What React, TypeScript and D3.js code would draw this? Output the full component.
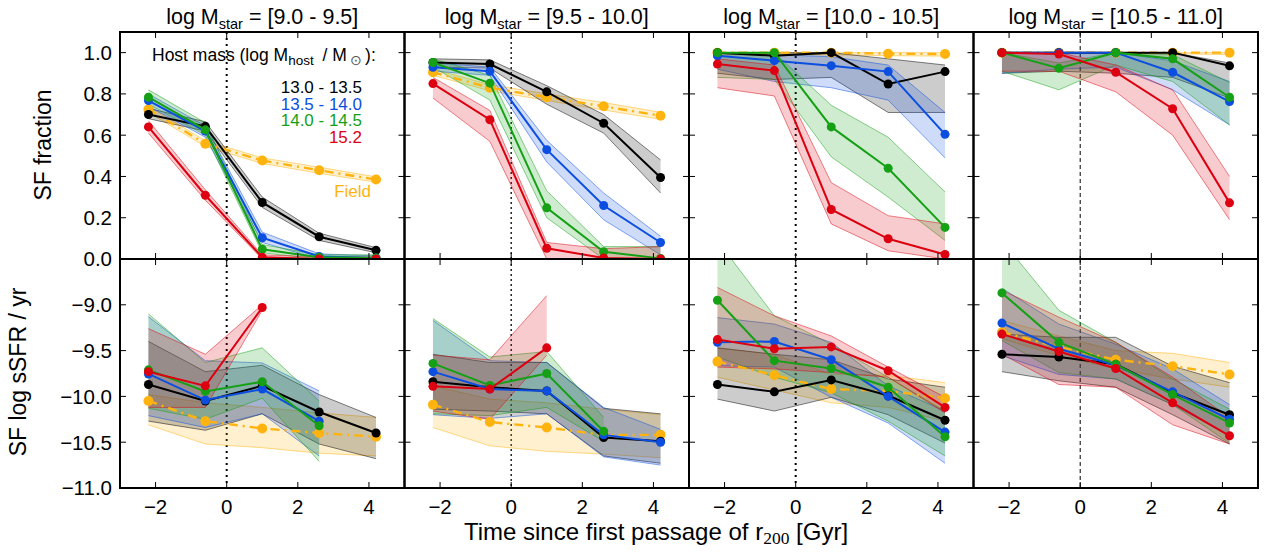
import React from 'react'
import * as d3 from 'd3'

// time since first passage of r200 [Gyr]
const times = [-2.2, -0.6, 1.0, 2.6, 4.2]
const mstarBins = ['[9.0 - 9.5]', '[9.5 - 10.0]', '[10.0 - 10.5]', '[10.5 - 11.0]']
const hostLabels = ['13.0 - 13.5', '13.5 - 14.0', '14.0 - 14.5', '15.2']
const fracTicks = [0, 0.2, 0.4, 0.6, 0.8, 1.0]
const ssfrTicks = [-11, -10.5, -10, -9.5, -9]
const timeTicks = [-2, 0, 2, 4]

// SF fraction, one row per stellar mass bin
const fracBlack = [
  [0.7, 0.643, 0.274, 0.108, 0.042],
  [0.952, 0.945, 0.81, 0.658, 0.395],
  [1.0, 0.985, 1.0, 0.848, 0.908],
  [1.0, 1.0, 1.0, 1.0, 0.936],
]
const fracBlackLo = [
  [0.68, 0.62, 0.25, 0.09, 0.03],
  [0.93, 0.925, 0.75, 0.61, 0.32],
  [0.9, 0.87, 0.88, 0.71, 0.71],
  [0.9, 0.91, 0.9, 0.88, 0.78],
]
const fracBlackHi = [
  [0.73, 0.665, 0.3, 0.125, 0.055],
  [0.97, 0.965, 0.84, 0.7, 0.48],
  [1.0, 1.0, 1.0, 0.97, 0.94],
  [1.0, 1.0, 1.0, 1.0, 0.95],
]
const fracBlue = [
  [0.768, 0.62, 0.103, 0.012, 0.005],
  [0.929, 0.91, 0.53, 0.259, 0.08],
  [0.985, 0.961, 0.937, 0.908, 0.604],
  [1.0, 1.0, 1.0, 0.905, 0.763],
]
const fracBlueLo = [
  [0.74, 0.59, 0.08, 0.0, 0.0],
  [0.91, 0.89, 0.47, 0.19, 0.02],
  [0.92, 0.86, 0.83, 0.77, 0.49],
  [0.9, 0.92, 0.93, 0.82, 0.65],
]
const fracBlueHi = [
  [0.8, 0.645, 0.13, 0.025, 0.015],
  [0.95, 0.93, 0.575, 0.32, 0.11],
  [1.0, 0.99, 0.98, 0.94, 0.71],
  [1.0, 1.0, 1.0, 0.96, 0.86],
]
const fracGreen = [
  [0.784, 0.626, 0.047, 0.008, 0.005],
  [0.952, 0.852, 0.248, 0.035, 0.003],
  [1.0, 1.0, 0.64, 0.44, 0.153],
  [1.0, 0.924, 1.0, 0.97, 0.784],
]
const fracGreenLo = [
  [0.75, 0.6, 0.03, 0.0, 0.0],
  [0.93, 0.77, 0.2, 0.0, 0.0],
  [0.88, 0.87, 0.495, 0.3, 0.09],
  [0.91, 0.82, 0.94, 0.86, 0.65],
]
const fracGreenHi = [
  [0.82, 0.66, 0.07, 0.02, 0.02],
  [0.97, 0.89, 0.33, 0.06, 0.06],
  [1.0, 1.0, 0.745, 0.59, 0.325],
  [1.0, 0.95, 1.0, 0.99, 0.855],
]
const fracRed = [
  [0.64, 0.309, 0.008, 0.0, 0.0],
  [0.85, 0.675, 0.052, 0.005, 0.0],
  [0.945, 0.913, 0.24, 0.098, 0.022],
  [1.0, 0.993, 0.905, 0.728, 0.272],
]
const fracRedLo = [
  [0.61, 0.285, 0.0, 0.0, 0.0],
  [0.78, 0.57, 0.0, 0.0, 0.0],
  [0.83, 0.79, 0.17, 0.04, 0.0],
  [0.91, 0.91, 0.81, 0.6, 0.19],
]
const fracRedHi = [
  [0.67, 0.335, 0.02, 0.01, 0.01],
  [0.88, 0.72, 0.08, 0.05, 0.06],
  [0.97, 0.94, 0.37, 0.21, 0.17],
  [1.0, 1.0, 0.94, 0.82, 0.4],
]
const fracField = [
  [0.725, 0.559, 0.477, 0.43, 0.385],
  [0.905, 0.83, 0.784, 0.74, 0.694],
  [1.0, 1.0, 1.0, 0.995, 0.993],
  [1.0, 1.0, 1.0, 1.0, 1.0],
]
const fracFieldLo = [
  [0.71, 0.545, 0.463, 0.415, 0.372],
  [0.89, 0.815, 0.768, 0.722, 0.677],
  [0.99, 0.99, 0.99, 0.985, 0.983],
  [0.995, 0.995, 0.995, 0.995, 0.99],
]
const fracFieldHi = [
  [0.74, 0.573, 0.49, 0.445, 0.398],
  [0.92, 0.845, 0.8, 0.758, 0.711],
  [1.0, 1.0, 1.0, 1.0, 1.0],
  [1.0, 1.0, 1.0, 1.0, 1.0],
]

// SF log sSFR / yr
const ssfrBlack = [
  [-9.87, -10.05, -9.885, -10.17, -10.4],
  [-9.84, -9.9, -9.94, -10.45, -10.49],
  [-9.87, -9.95, -9.82, -9.99, -10.26],
  [-9.54, -9.57, -9.65, -9.96, -10.2],
]
const ssfrBlackLo = [
  [-10.27, -10.37, -10.19, -10.52, -10.68],
  [-10.14, -10.16, -10.19, -10.65, -10.73],
  [-10.03, -10.16, -10.01, -10.2, -10.51],
  [-9.73, -9.83, -9.9, -10.2, -10.52],
]
const ssfrBlackHi = [
  [-9.4, -9.73, -9.66, -9.98, -10.23],
  [-9.54, -9.63, -9.63, -10.13, -10.19],
  [-9.47, -9.54, -9.6, -9.81, -9.9],
  [-9.32, -9.355, -9.355, -9.67, -9.85],
]
const ssfrBlue = [
  [-9.755, -10.04, -9.92, -10.27, null],
  [-9.73, -9.92, -9.94, -10.42, -10.5],
  [-9.41, -9.4, -9.6, -10.0, -10.39],
  [-9.2, -9.48, -9.66, -9.95, -10.25],
]
const ssfrBlueLo = [
  [-10.21, -10.34, -10.19, -10.65, null],
  [-10.2, -10.24, -10.19, -10.66, -10.75],
  [-9.665, -9.68, -10.01, -10.29, -10.73],
  [-9.555, -9.76, -9.81, -10.09, -10.43],
]
const ssfrBlueHi = [
  [-9.13, -9.61, -9.635, -9.94, null],
  [-9.17, -9.61, -9.63, -10.12, -10.36],
  [-9.14, -9.21, -9.41, -9.885, -10.16],
  [-8.82, -9.21, -9.43, -9.7, -10.09],
]
const ssfrGreen = [
  [-9.71, -9.945, -9.84, -10.32, null],
  [-9.64, -9.88, -9.75, -10.38, null],
  [-8.95, -9.61, -9.695, -9.9, -10.44],
  [-8.87, -9.41, -9.65, -9.98, -10.29],
]
const ssfrGreenLo = [
  [-10.13, -10.25, -10.02, -10.71, null],
  [-10.19, -10.21, -10.12, -10.49, null],
  [-9.57, -9.79, -9.96, -10.27, -10.65],
  [-9.39, -9.74, -9.81, -10.09, -10.51],
]
const ssfrGreenHi = [
  [-9.1, -9.63, -9.47, -10.05, null],
  [-9.15, -9.57, -9.51, -10.23, null],
  [-8.3, -9.12, -9.43, -9.79, -10.16],
  [-8.3, -9.06, -9.41, -9.81, -10.14],
]
const ssfrRed = [
  [-9.73, -9.885, -9.03, null, null],
  [-9.89, -9.92, -9.47, null, null],
  [-9.38, -9.48, -9.46, -9.72, -10.12],
  [-9.32, -9.51, -9.695, -10.07, -10.43],
]
const ssfrRedLo = [
  [-10.12, -10.12, -9.06, null, null],
  [-10.16, -10.25, -9.55, null, null],
  [-9.68, -9.7, -9.74, -9.79, -10.18],
  [-9.54, -9.87, -9.9, -10.31, -10.52],
]
const ssfrRedHi = [
  [-9.26, -9.54, -9.0, null, null],
  [-9.55, -9.6, -8.9, null, null],
  [-8.81, -9.12, -9.34, -9.68, -10.01],
  [-8.84, -9.135, -9.41, -9.79, -10.23],
]
const ssfrField = [
  [-10.05, -10.27, -10.35, -10.4, -10.44],
  [-10.09, -10.28, -10.34, -10.42, -10.42],
  [-9.62, -9.77, -9.92, -9.94, -10.02],
  [-9.3, -9.46, -9.6, -9.67, -9.76],
]
const ssfrFieldLo = [
  [-10.31, -10.52, -10.56, -10.62, -10.65],
  [-10.34, -10.54, -10.6, -10.63, -10.67],
  [-9.79, -9.93, -10.07, -10.12, -10.27],
  [-9.37, -9.555, -9.7, -9.81, -9.9],
]
const ssfrFieldHi = [
  [-9.98, -10.07, -10.12, -10.18, -10.23],
  [-9.885, -10.03, -10.07, -10.14, -10.2],
  [-9.475, -9.54, -9.76, -9.77, -9.85],
  [-9.17, -9.34, -9.5, -9.53, -9.63],
]

const colors = ['#000000', '#0b4ee0', '#15a015', '#dd0010', '#ffb30f']
const fieldColor = colors[4]

type Val = number | null
type Series = {color: string; mid: Val[][]; lo: Val[][]; hi: Val[][]; field?: boolean}

const fracSeries: Series[] = [
  {color: colors[4], mid: fracField, lo: fracFieldLo, hi: fracFieldHi, field: true},
  {color: colors[0], mid: fracBlack, lo: fracBlackLo, hi: fracBlackHi},
  {color: colors[1], mid: fracBlue, lo: fracBlueLo, hi: fracBlueHi},
  {color: colors[2], mid: fracGreen, lo: fracGreenLo, hi: fracGreenHi},
  {color: colors[3], mid: fracRed, lo: fracRedLo, hi: fracRedHi},
]
const ssfrSeries: Series[] = [
  {color: colors[4], mid: ssfrField, lo: ssfrFieldLo, hi: ssfrFieldHi, field: true},
  {color: colors[0], mid: ssfrBlack, lo: ssfrBlackLo, hi: ssfrBlackHi},
  {color: colors[1], mid: ssfrBlue, lo: ssfrBlueLo, hi: ssfrBlueHi},
  {color: colors[2], mid: ssfrGreen, lo: ssfrGreenLo, hi: ssfrGreenHi},
  {color: colors[3], mid: ssfrRed, lo: ssfrRedLo, hi: ssfrRedHi},
]

const W = 1264
const H = 559
const left = 120
const right = 1258
const top = 32
const mid = 259
const bottom = 488
const pw = (right - left) / 4
const font = "'Liberation Sans', Arial, Helvetica, sans-serif"
const minus = (s: string) => s.replace('-', '\u2212')

const yFrac = d3.scaleLinear().domain([0, 1.1]).range([mid, top])
const ySsfr = d3.scaleLinear().domain([-11, -8.5]).range([bottom, mid])

function Panel({col, row}: {col: number; row: number}) {
  const x0 = left + col * pw
  const x = d3.scaleLinear().domain([-3, 5]).range([x0, x0 + pw])
  const y = row === 0 ? yFrac : ySsfr
  const series = row === 0 ? fracSeries : ssfrSeries
  const yTicks = row === 0 ? fracTicks : ssfrTicks
  const [y1, y0] = y.range()
  const clipId = `clip-${row}-${col}`
  const tick = 6
  const dotStyle = [
    {w: 2, d: '2,4'},
    {w: 1.3, d: '2,3'},
    {w: 2, d: '2,4'},
    {w: 1, d: '4,3'},
  ][col]

  const line = d3
    .line<Val>()
    .defined((v) => v != null)
    .x((_, i) => x(times[i]))
    .y((v) => y(v as number))

  return (
    <g>
      <defs>
        <clipPath id={clipId}>
          <rect x={x0} y={y0} width={pw} height={y1 - y0} />
        </clipPath>
      </defs>
      <g clipPath={`url(#${clipId})`}>
        <line x1={x(0)} x2={x(0)} y1={y0} y2={y1} stroke="#000" strokeWidth={dotStyle.w} strokeDasharray={dotStyle.d} />
        {series.map((s, k) => {
          const lo = s.lo[col]
          const hi = s.hi[col]
          const idx = times.map((_, i) => i).filter((i) => lo[i] != null && hi[i] != null)
          const area = d3
            .area<number>()
            .x((i) => x(times[i]))
            .y0((i) => y(lo[i] as number))
            .y1((i) => y(hi[i] as number))
          return (
            <g key={'b' + k}>
              <path d={area(idx) || ''} fill={s.color} fillOpacity={0.2} stroke="none" />
              <path d={line(lo) || ''} fill="none" stroke={s.color} strokeOpacity={0.55} strokeWidth={0.9} />
              <path d={line(hi) || ''} fill="none" stroke={s.color} strokeOpacity={0.55} strokeWidth={0.9} />
            </g>
          )
        })}
        {series.map((s, k) => {
          const vals = s.mid[col]
          return (
            <g key={'l' + k}>
              <path
                d={line(vals) || ''}
                fill="none"
                stroke={s.color}
                strokeWidth={s.field ? 2.4 : 2}
                strokeDasharray={s.field ? '9,5,2,5' : undefined}
              />
              {vals.map((v, i) =>
                v == null ? null : <circle key={i} cx={x(times[i])} cy={y(v)} r={s.field ? 5 : 4.5} fill={s.color} />
              )}
            </g>
          )
        })}
      </g>
      {/* ticks, inward on all sides */}
      {timeTicks.map((t) => (
        <g key={'xt' + t} stroke="#000" strokeWidth={1}>
          <line x1={x(t)} x2={x(t)} y1={y1} y2={y1 - tick} />
          <line x1={x(t)} x2={x(t)} y1={y0} y2={y0 + tick} />
        </g>
      ))}
      {yTicks.map((t) => (
        <g key={'yt' + t} stroke="#000" strokeWidth={1}>
          <line x1={x0} x2={x0 + tick} y1={y(t)} y2={y(t)} />
          <line x1={x0 + pw} x2={x0 + pw - tick} y1={y(t)} y2={y(t)} />
        </g>
      ))}
      <rect x={x0} y={y0} width={pw} height={y1 - y0} fill="none" stroke="#000" strokeWidth={2} />
      {col === 0 &&
        yTicks.map((t) => (
          <text key={'yl' + t} x={x0 - 8} y={y(t)} dy="0.36em" textAnchor="end" fontSize={20.5}>
            {row === 0 ? t.toFixed(1) : minus(t.toFixed(1))}
          </text>
        ))}
      {row === 1 &&
        timeTicks.map((t) => (
          <text key={'xl' + t} x={x(t)} y={507} dy="0.36em" textAnchor="middle" fontSize={20.5}>
            {minus(String(t))}
          </text>
        ))}
      {row === 0 && (
        <text x={x0 + pw / 2} y={24} textAnchor="middle" fontSize={21.5}>
          log M
          <tspan dy={5} fontSize={14.5}>
            star
          </tspan>
          <tspan dy={-5}>{` = ${mstarBins[col]}`}</tspan>
        </text>
      )}
    </g>
  )
}

export default function App() {
  const legendX = 362
  return (
    <svg
      width={W}
      height={H}
      style={{position: 'absolute', left: 0, top: 0, background: '#fff'}}
      fontFamily={font}
    >
      {[0, 1].map((row) => [0, 1, 2, 3].map((col) => <Panel key={row + '-' + col} row={row} col={col} />))}
      <text x={152} y={61} fontSize={17.5}>
        Host mass (log M
        <tspan dy={4} fontSize={13.5}>
          host
        </tspan>
        <tspan dy={-4}>{'\u2002/ M'}</tspan>
        <tspan dy={4} fontSize={14} fill="#555">
          {'\u2009\u2299'}
        </tspan>
        <tspan dy={-4}>{'\u2009):'}</tspan>
      </text>
      {hostLabels.map((h, i) => (
        <text key={h} x={legendX} y={93 + i * 16.5} textAnchor="end" fontSize={17} fill={colors[i]}>
          {h}
        </text>
      ))}
      <text x={371} y={197} textAnchor="end" fontSize={17} fill={fieldColor}>
        Field
      </text>
      <text transform="translate(51,145) rotate(-90)" textAnchor="middle" fontSize={23}>
        SF fraction
      </text>
      <text transform="translate(26,372) rotate(-90)" textAnchor="middle" fontSize={23}>
        SF log sSFR / yr
      </text>
      <text x={656} y={540} textAnchor="middle" fontSize={24}>
        Time since first passage of r
        <tspan dy={4} fontSize={17.5} fontFamily="'Liberation Serif', serif">
          200
        </tspan>
        <tspan dy={-4}> [Gyr]</tspan>
      </text>
    </svg>
  )
}
